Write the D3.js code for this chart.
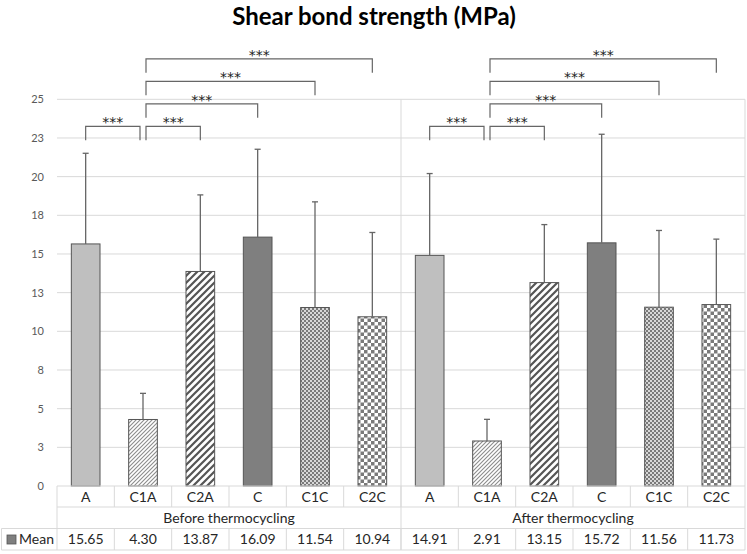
<!DOCTYPE html>
<html>
<head>
<meta charset="utf-8">
<script src="https://cdn.jsdelivr.net/npm/d3@7"></script>
<style>
  html, body { margin: 0; padding: 0; background: #fff; }
  svg { display: block; font-family: Lato, "Open Sans", sans-serif; }
</style>
</head>
<body>
<svg id="chart" width="747" height="554"></svg>
<script>
// ---------------- data ----------------
const title = "Shear bond strength (MPa)";
const groups = ["Before thermocycling", "After thermocycling"];
const categories = ["A", "C1A", "C2A", "C", "C1C", "C2C"];
const meanBefore = [15.65, 4.30, 13.87, 16.09, 11.54, 10.94];
const meanAfter  = [14.91, 2.91, 13.15, 15.72, 11.56, 11.73];
const sdBefore = [5.86, 1.69, 4.95, 5.68, 6.83, 5.45];
const sdAfter  = [5.29, 1.40, 3.75, 7.02, 4.96, 4.23];
const yTickValues = [0, 2.5, 5, 7.5, 10, 12.5, 15, 17.5, 20, 22.5, 25];
const yTickLabels = ["0", "3", "5", "8", "10", "13", "15", "18", "20", "23", "25"];
const seriesName = "Mean";
// significance comparisons (same in both groups)
const compFrom = ["A", "C1A", "C1A", "C1A", "C1A"];
const compTo   = ["C1A", "C2A", "C", "C1C", "C2C"];
const compLevel = [0, 0, 1, 2, 3];
const compLabel = ["***", "***", "***", "***", "***"];

(function () {
// ---------------- layout ----------------
const svg = d3.select("#chart");
const pLeft = 57, pRight = 745, pTop = 99.3, pBottom = 486;
const rowCat = 507, rowGroup = 528.5, rowMean = 550;

const keys = [];
const rows = [];
groups.forEach((g, gi) => categories.forEach((c, ci) => {
  const key = g + "|" + c;
  keys.push(key);
  rows.push({ key, group: g, cat: c,
    mean: gi === 0 ? meanBefore[ci] : meanAfter[ci],
    sd: gi === 0 ? sdBefore[ci] : sdAfter[ci] });
}));

const x = d3.scaleBand().domain(keys).range([pLeft, pRight]).padding(0);
const xg = d3.scaleBand().domain(groups).range([pLeft, pRight]).padding(0);
const y = d3.scaleLinear().domain([0, 25]).range([pBottom, pTop]);

// ---------------- patterns ----------------
const defs = svg.append("defs");
const fills = {
  "A": "#bfbfbf",
  "C": "#7f7f7f",
  "C1A": "url(#lightUp)",
  "C2A": "url(#wideUp)",
  "C1C": "url(#smallCheck)",
  "C2C": "url(#bigCheck)"
};
{
  const p = defs.append("pattern").attr("id", "lightUp").attr("patternUnits", "userSpaceOnUse")
    .attr("width", 4).attr("height", 4);
  p.append("rect").attr("width", 4).attr("height", 4).attr("fill", "#fff");
  p.append("path").attr("d", "M-1,1 L1,-1 M0,4 L4,0 M3,5 L5,3").attr("stroke", "#8c8c8c").attr("stroke-width", 1.1);
}
{
  const s = 7;
  const p = defs.append("pattern").attr("id", "wideUp").attr("patternUnits", "userSpaceOnUse")
    .attr("width", s).attr("height", s);
  p.append("rect").attr("width", s).attr("height", s).attr("fill", "#fff");
  p.append("path").attr("d", `M-2,2 L2,-2 M0,${s} L${s},0 M${s-2},${s+2} L${s+2},${s-2}`)
    .attr("stroke", "#555").attr("stroke-width", 2.2);
}
{
  const p = defs.append("pattern").attr("id", "smallCheck").attr("patternUnits", "userSpaceOnUse")
    .attr("width", 4).attr("height", 4);
  p.append("rect").attr("width", 4).attr("height", 4).attr("fill", "#d8d8d8");
  p.append("rect").attr("width", 2).attr("height", 2).attr("fill", "#7a7a7a");
  p.append("rect").attr("x", 2).attr("y", 2).attr("width", 2).attr("height", 2).attr("fill", "#7a7a7a");
}
{
  const p = defs.append("pattern").attr("id", "bigCheck").attr("patternUnits", "userSpaceOnUse")
    .attr("width", 7).attr("height", 7);
  p.append("rect").attr("width", 7).attr("height", 7).attr("fill", "#fff");
  p.append("rect").attr("width", 3.5).attr("height", 3.5).attr("fill", "#7a7a7a");
  p.append("rect").attr("x", 3.5).attr("y", 3.5).attr("width", 3.5).attr("height", 3.5).attr("fill", "#7a7a7a");
}

// ---------------- title ----------------
svg.append("text").attr("x", 374).attr("y", 25).attr("text-anchor", "middle")
  .attr("font-size", 24).attr("font-weight", 700).attr("fill", "#000").text(title);

// ---------------- gridlines & y axis ----------------
const grid = svg.append("g");
grid.selectAll("line").data(yTickValues.filter(v => v > 0)).join("line")
  .attr("x1", pLeft).attr("x2", pRight)
  .attr("y1", d => y(d)).attr("y2", d => y(d))
  .attr("stroke", "#d9d9d9").attr("stroke-width", 1);

const yAxis = svg.append("g").attr("transform", `translate(${pLeft - 8},0)`)
  .call(d3.axisLeft(y).tickValues(yTickValues).tickSize(0).tickPadding(5)
    .tickFormat((d, i) => yTickLabels[i]));
yAxis.select(".domain").remove();
yAxis.selectAll("text").attr("font-size", 11).attr("fill", "#595959").attr("font-family", "Lato, sans-serif");

// plot frame: right border
svg.append("line").attr("x1", pRight).attr("x2", pRight).attr("y1", pTop).attr("y2", rowMean)
  .attr("stroke", "#d9d9d9");

// ---------------- bars ----------------
const barW = x.bandwidth() * 0.5;
svg.append("g").selectAll("rect").data(rows).join("rect")
  .attr("x", d => x(d.key) + (x.bandwidth() - barW) / 2)
  .attr("width", barW)
  .attr("y", d => y(d.mean))
  .attr("height", d => y(0) - y(d.mean))
  .attr("fill", d => fills[d.cat])
  .attr("stroke", "#555").attr("stroke-width", 1);

// ---------------- error bars ----------------
const eb = svg.append("g").attr("stroke", "#666").attr("stroke-width", 1.3);
rows.forEach(d => {
  const cx = x(d.key) + x.bandwidth() / 2;
  eb.append("line").attr("x1", cx).attr("x2", cx).attr("y1", y(d.mean)).attr("y2", y(d.mean + d.sd));
  eb.append("line").attr("x1", cx - 3).attr("x2", cx + 3).attr("y1", y(d.mean + d.sd)).attr("y2", y(d.mean + d.sd));
});

// ---------------- significance brackets ----------------
const br = svg.append("g");
const levelY = lv => y(25) + 27 - lv * 22.5;
const hub = "C1A";
groups.forEach(g => {
  compFrom.forEach((f, i) => {
    const t = compTo[i];
    const x1 = x(g + "|" + f) + x.bandwidth() / 2 + (f === hub ? 3 : 0);
    const x2 = x(g + "|" + t) + x.bandwidth() / 2 - (t === hub ? 3 : 0);
    const ly = levelY(compLevel[i]);
    br.append("path")
      .attr("d", `M${x1},${ly + 14} V${ly} H${x2} V${ly + 14}`)
      .attr("fill", "none").attr("stroke", "#666").attr("stroke-width", 1.2);
    br.append("text").attr("x", (x1 + x2) / 2).attr("y", ly + 1)
      .attr("text-anchor", "middle").attr("font-size", 14).attr("letter-spacing", 0)
      .attr("font-family", "'DejaVu Sans', sans-serif")
      .attr("fill", "#222").text(compLabel[i]);
  });
});

// ---------------- data table ----------------
const tbl = svg.append("g").attr("stroke", "#d9d9d9").attr("stroke-width", 1);
tbl.append("line").attr("x1", pLeft).attr("x2", pRight).attr("y1", rowCat).attr("y2", rowCat);
tbl.append("line").attr("x1", 1.5).attr("x2", pRight).attr("y1", rowGroup).attr("y2", rowGroup);
tbl.append("line").attr("x1", 1.5).attr("x2", pRight).attr("y1", rowMean).attr("y2", rowMean);
tbl.append("line").attr("x1", 1.5).attr("x2", 1.5).attr("y1", rowGroup).attr("y2", rowMean);
tbl.append("line").attr("x1", pLeft).attr("x2", pLeft).attr("y1", pBottom).attr("y2", rowMean);
keys.forEach((k, i) => {
  if (i === 0) return;
  const xx = x(k);
  tbl.append("line").attr("x1", xx).attr("x2", xx).attr("y1", pBottom).attr("y2", rowCat);
  tbl.append("line").attr("x1", xx).attr("x2", xx).attr("y1", rowGroup).attr("y2", rowMean);
});
groups.forEach((g, i) => {
  if (i === 0) return;
  const xx = xg(g);
  tbl.append("line").attr("x1", xx).attr("x2", xx).attr("y1", pTop).attr("y2", rowMean);
});
svg.append("line").attr("x1", pLeft).attr("x2", pRight).attr("y1", pBottom).attr("y2", pBottom)
  .attr("stroke", "#d9d9d9");

const txt = svg.append("g").attr("fill", "#262626").attr("font-size", 14).attr("text-anchor", "middle");
rows.forEach(d => {
  const cx = x(d.key) + x.bandwidth() / 2;
  txt.append("text").attr("x", cx).attr("y", (pBottom + rowCat) / 2 + 5).text(d.cat);
  txt.append("text").attr("x", cx).attr("y", (rowGroup + rowMean) / 2 + 5).text(d.mean.toFixed(2));
});
groups.forEach(g => {
  txt.append("text").attr("x", xg(g) + xg.bandwidth() / 2).attr("y", (rowCat + rowGroup) / 2 + 5).text(g);
});
svg.append("rect").attr("x", 7).attr("y", 535).attr("width", 9).attr("height", 9)
  .attr("fill", "#7f7f7f").attr("stroke", "#555").attr("stroke-width", 0.8);
svg.append("text").attr("x", 19).attr("y", (rowGroup + rowMean) / 2 + 5).attr("font-size", 14)
  .attr("fill", "#262626").text(seriesName);
})();
</script>
</body>
</html>
